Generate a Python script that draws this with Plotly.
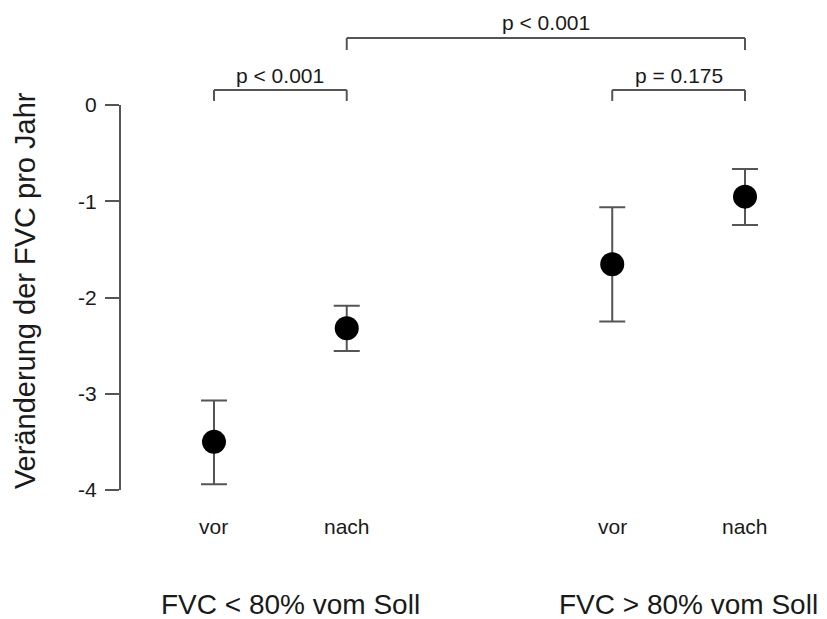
import plotly.graph_objects as go

# ---- data ----
x_pos = [1, 2, 4, 5]
phase_labels = ["vor", "nach", "vor", "nach"]
means = [-3.50, -2.32, -1.655, -0.952]
upper = [-3.07, -2.085, -1.063, -0.665]
lower = [-3.94, -2.556, -2.25, -1.247]

group_labels = ["FVC < 80% vom Soll", "FVC > 80% vom Soll"]
group_centers = [1.5, 4.5]

y_ticks = [0, -1, -2, -3, -4]

# brackets: (x_left, x_right, level, label)
brackets = [
    (1, 2, "low", "p < 0.001"),
    (4, 5, "low", "p = 0.175"),
    (2, 5, "high", "p < 0.001"),
]
bracket_y = {"low": (0.156, 0.042, 0.31), "high": (0.696, 0.571, 0.86)}

FONT = "Liberation Sans, Arial, sans-serif"
TXT = "#1a1a1a"
LINE = "#555555"

err_plus = [u - m for u, m in zip(upper, means)]
err_minus = [m - l for m, l in zip(means, lower)]

fig = go.Figure()
fig.add_trace(go.Scatter(
    x=x_pos, y=means, mode="markers",
    marker=dict(symbol="circle", size=24, color="black"),
    error_y=dict(type="data", symmetric=False, array=err_plus, arrayminus=err_minus,
                 color=LINE, thickness=2, width=13),
    showlegend=False, cliponaxis=False,
))

shapes = [dict(type="line", xref="paper", yref="y", x0=0, x1=0, y0=0, y1=-4,
               line=dict(color=LINE, width=2))]
annotations = []
for xl, xr, lvl, lab in brackets:
    yh, yt, ylab = bracket_y[lvl]
    shapes.append(dict(type="line", xref="x", yref="y", x0=xl, x1=xr, y0=yh, y1=yh,
                       line=dict(color=LINE, width=2)))
    shapes.append(dict(type="line", xref="x", yref="y", x0=xl, x1=xl, y0=yh, y1=yt,
                       line=dict(color=LINE, width=2)))
    shapes.append(dict(type="line", xref="x", yref="y", x0=xr, x1=xr, y0=yh, y1=yt,
                       line=dict(color=LINE, width=2)))
    annotations.append(dict(x=(xl + xr) / 2, y=ylab, xref="x", yref="y", text=lab,
                            showarrow=False, xanchor="center", yanchor="middle",
                            font=dict(family=FONT, size=21, color=TXT)))

for xp, lab in zip(x_pos, phase_labels):
    annotations.append(dict(x=xp, y=-0.0545, xref="x", yref="paper", text=lab,
                            showarrow=False, xanchor="center", yanchor="middle",
                            font=dict(family=FONT, size=21, color=TXT)))

for xc, lab in zip(group_centers, group_labels):
    annotations.append(dict(x=xc, y=-0.212, xref="x", yref="paper", text=lab,
                            showarrow=False, xanchor="center", yanchor="middle", xshift=10,
                            font=dict(family=FONT, size=28, color=TXT)))

annotations.append(dict(x=-0.1357, y=0.422, xref="paper", yref="paper",
                        text="Veränderung der FVC pro Jahr", textangle=-90,
                        showarrow=False, xanchor="center", yanchor="middle",
                        font=dict(family=FONT, size=29, color=TXT)))

fig.update_layout(
    width=827, height=619,
    margin=dict(l=120, r=7, t=5, b=119),
    paper_bgcolor="white", plot_bgcolor="white",
    xaxis=dict(range=[0.292, 5.565], showline=False, showgrid=False, zeroline=False,
               showticklabels=False, ticks=""),
    yaxis=dict(range=[-4.104, 1.039], showline=False, showgrid=False, zeroline=False,
               tickvals=y_ticks, ticktext=[str(v) for v in y_ticks],
               ticks="outside", ticklen=14, tickwidth=2, tickcolor=LINE,
               ticklabelstandoff=4,
               tickfont=dict(family=FONT, size=21, color=TXT)),
    shapes=shapes, annotations=annotations,
)

fig.write_html("out.html")
